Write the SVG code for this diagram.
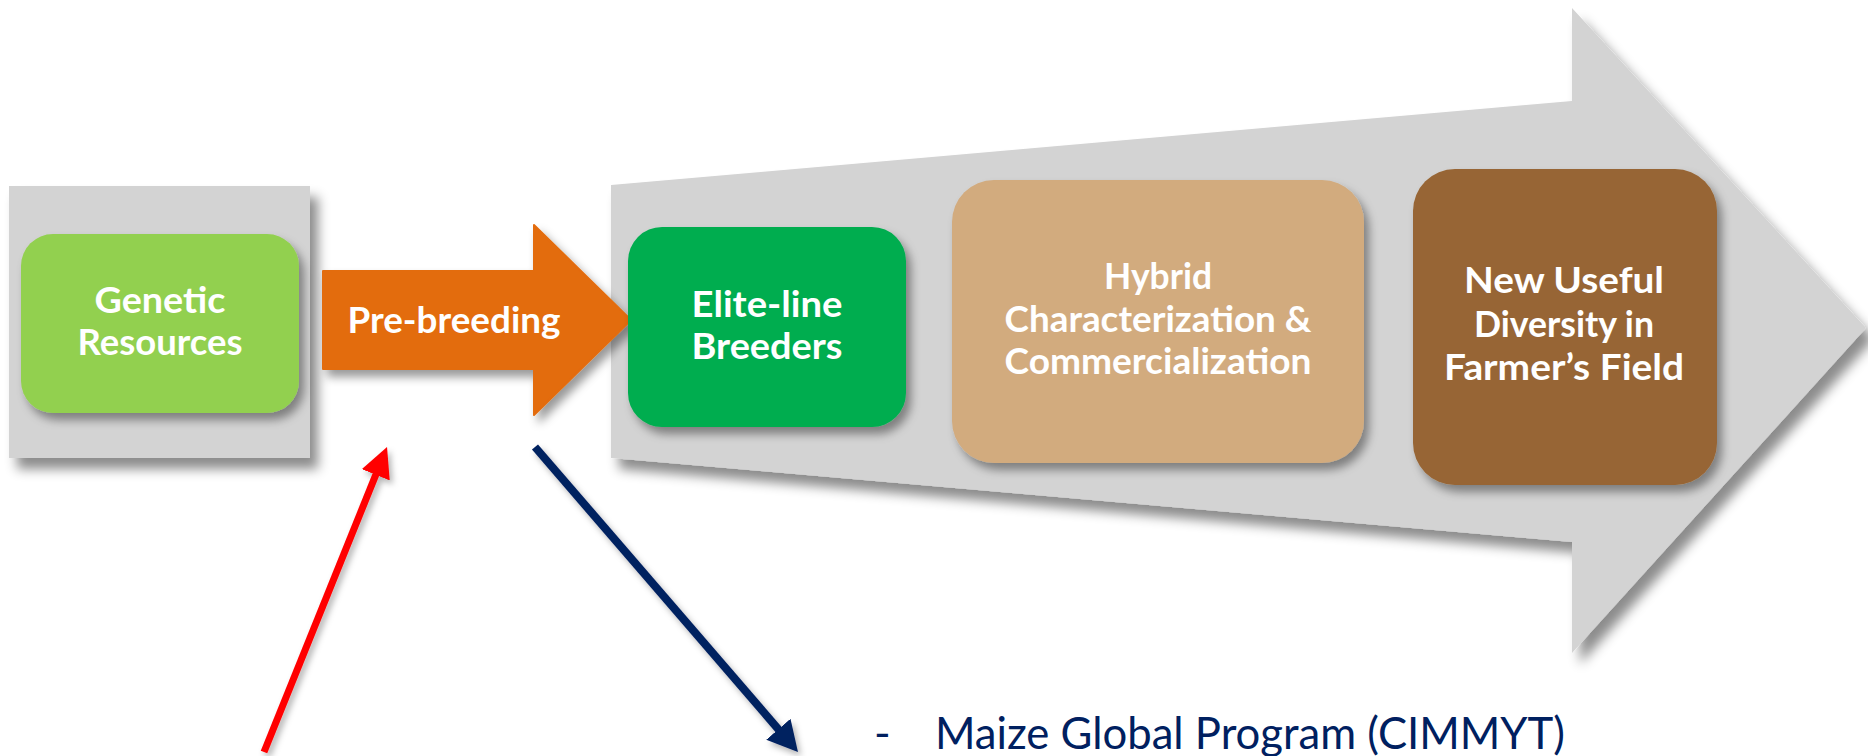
<svg xmlns="http://www.w3.org/2000/svg" width="1868" height="756" viewBox="0 0 1868 756">
  <style>
    .lbl { font-family: Lato, "Open Sans", "Liberation Sans", sans-serif; font-weight: 700; font-size: 37px; fill: #ffffff; text-anchor: middle; }
    .note { font-family: Lato, "Open Sans", "Liberation Sans", sans-serif; font-size: 45px; fill: #002060; }
  </style>
  <defs>
    <filter id="shadowBig" x="-10%" y="-10%" width="125%" height="135%">
      <feDropShadow dx="8" dy="11" stdDeviation="6" flood-color="#000" flood-opacity="0.45"/>
    </filter>
    <filter id="shadowNode" x="-10%" y="-10%" width="125%" height="130%">
      <feDropShadow dx="5" dy="7" stdDeviation="5" flood-color="#000" flood-opacity="0.4"/>
    </filter>
    <filter id="shadowLine" x="-20%" y="-20%" width="140%" height="140%">
      <feDropShadow dx="3" dy="4" stdDeviation="3" flood-color="#000" flood-opacity="0.3"/>
    </filter>
    <marker id="headRed" markerUnits="userSpaceOnUse" markerWidth="30" markerHeight="30" refX="8" refY="15" orient="auto">
      <path d="M0,0 L30,15 L0,30 Z" fill="#ff0000"/>
    </marker>
    <marker id="headNavy" markerUnits="userSpaceOnUse" markerWidth="30" markerHeight="32" refX="8" refY="16" orient="auto">
      <path d="M0,0 L30,16 L0,32 Z" fill="#002060"/>
    </marker>
  </defs>

  <!-- background panels -->
  <g id="panel-left">
    <rect x="9" y="186" width="301" height="272" fill="#d3d3d3" filter="url(#shadowBig)"/>
  </g>
  <g id="panel-pipeline">
    <polygon points="611,185 1572,101 1572,8 1866,328 1572,653 1572,542 611,458" fill="#d3d3d3" filter="url(#shadowBig)"/>
  </g>

  <!-- stage nodes -->
  <g id="node-genetic-resources">
    <rect x="21" y="234" width="278" height="179" rx="32" fill="#92d050" filter="url(#shadowNode)"/>
    <text class="lbl" x="160" y="313" textLength="131" lengthAdjust="spacingAndGlyphs">Genetic</text>
    <text class="lbl" x="160" y="355" textLength="165" lengthAdjust="spacingAndGlyphs">Resources</text>
  </g>

  <g id="node-pre-breeding">
    <polygon points="323,271 534,271 534,225 631,320 534,415 534,369 323,369" fill="#e36c0a" stroke="#e36c0a" stroke-width="2" stroke-linejoin="round" filter="url(#shadowNode)"/>
    <text class="lbl" x="454" y="333" textLength="213" lengthAdjust="spacingAndGlyphs">Pre-breeding</text>
  </g>

  <g id="node-elite-line">
    <rect x="628" y="227" width="278" height="200" rx="34" fill="#00ad4f" filter="url(#shadowNode)"/>
    <text class="lbl" x="767" y="317" textLength="151" lengthAdjust="spacingAndGlyphs">Elite-line</text>
    <text class="lbl" x="767" y="359" textLength="151" lengthAdjust="spacingAndGlyphs">Breeders</text>
  </g>

  <g id="node-hybrid">
    <rect x="952" y="180" width="412" height="283" rx="42" fill="#d2ab7e" filter="url(#shadowNode)"/>
    <text class="lbl" x="1158" y="289" textLength="108" lengthAdjust="spacingAndGlyphs">Hybrid</text>
    <text class="lbl" x="1158" y="332" textLength="307" lengthAdjust="spacingAndGlyphs">Characterization &amp;</text>
    <text class="lbl" x="1158" y="374" textLength="307" lengthAdjust="spacingAndGlyphs">Commercialization</text>
  </g>

  <g id="node-diversity">
    <rect x="1413" y="169" width="304" height="316" rx="42" fill="#976534" filter="url(#shadowNode)"/>
    <text class="lbl" x="1564" y="293" textLength="200" lengthAdjust="spacingAndGlyphs">New Useful</text>
    <text class="lbl" x="1564" y="337" textLength="180" lengthAdjust="spacingAndGlyphs">Diversity in</text>
    <text class="lbl" x="1564" y="380" textLength="240" lengthAdjust="spacingAndGlyphs">Farmer’s Field</text>
  </g>

  <!-- connectors -->
  <g id="connectors" filter="url(#shadowLine)">
    <line x1="264" y1="752" x2="378.8" y2="467.4" stroke="#ff0000" stroke-width="7" marker-end="url(#headRed)"/>
    <line x1="535" y1="447" x2="783.6" y2="735.3" stroke="#002060" stroke-width="8" marker-end="url(#headNavy)"/>
  </g>

  <g id="note-maize">
    <text class="note" x="874" y="749">-</text>
    <text class="note" x="935" y="749" textLength="630" lengthAdjust="spacingAndGlyphs">Maize Global Program (CIMMYT)</text>
  </g>
</svg>
